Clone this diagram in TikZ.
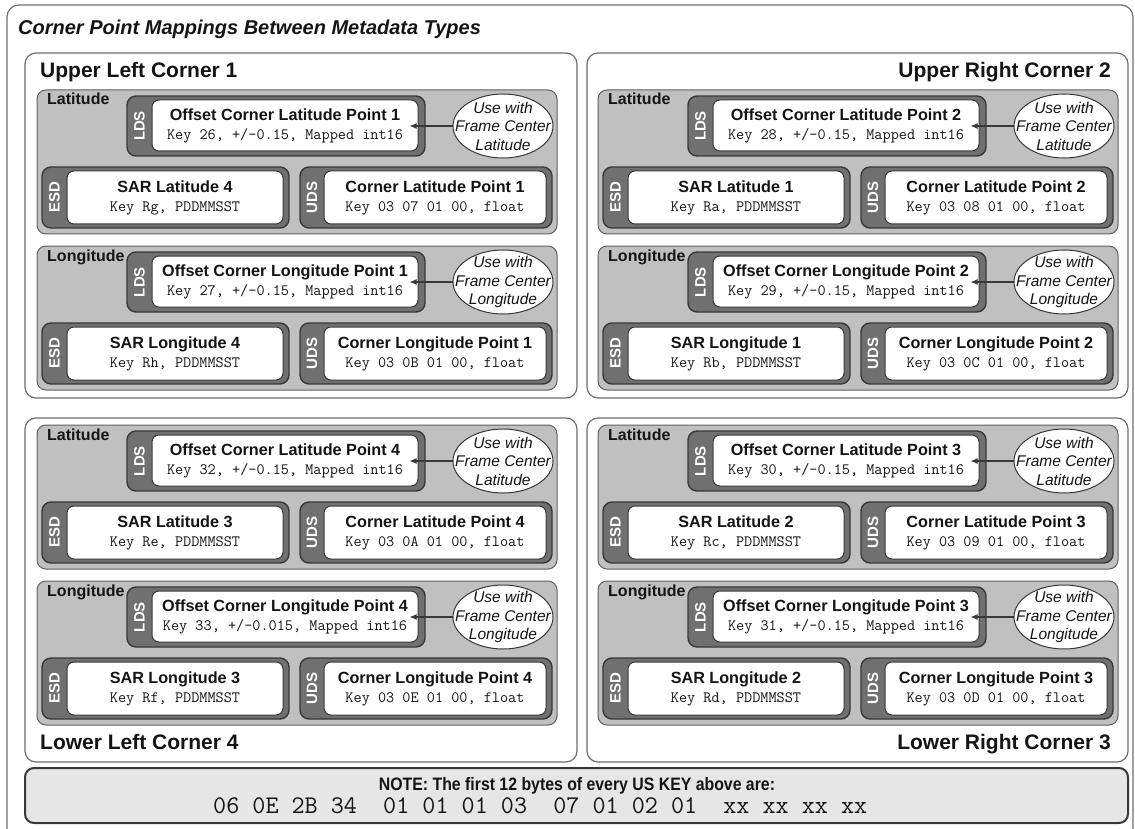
\documentclass[tikz,border=0pt]{standalone}
\usepackage{fontspec}
\setmainfont{Liberation Sans}
\newfontfamily\narrowsans[FakeStretch=0.88]{Liberation Sans}
\usetikzlibrary{shapes.geometric,arrows.meta}
\definecolor{panelgray}{HTML}{C0C0C0}
\definecolor{boxgray}{HTML}{707070}
\definecolor{edgegray}{HTML}{383838}
\definecolor{framegray}{HTML}{6E6E6E}
\definecolor{notegray}{HTML}{E6E6E6}
\definecolor{ink}{HTML}{141414}
\newcommand{\keyfont}{\ttfamily\fontsize{15.8}{18}\selectfont}
\newcommand{\mappanel}[8]{%
  \begin{scope}[shift={(#2)}]
    \draw[panel] (0,0) rectangle (520,144);
    \node[panellabel] (#1-lab) at (10,15) {#3};
    \node[darkbox, minimum width=298, minimum height=60] (#1-lds) at (239,36) {};
    \node[whitebox, minimum width=266, minimum height=51] (#1-ldsin) at (248,35.5)
      {{\bfseries Offset Corner #3 Point #4}\\{\keyfont Key #6, Mapped int16}};
    \node[tag] (#1-ldstag) at (102.5,36) {LDS};
    \node[usewith] (#1-ell) at (466,36) {};
    \node[usetext] (#1-elltext) at (#1-ell) {Use with\\Frame Center\\#3};
    \node[darkbox, minimum width=247, minimum height=61] (#1-esd) at (128.5,107.5) {};
    \node[whitebox, minimum width=216, minimum height=53] (#1-esdin) at (138,107.5)
      {{\bfseries SAR #3 #5}\\{\keyfont Key #7, PDDMMSST}};
    \node[tag] (#1-esdtag) at (17.5,107.5) {ESD};
    \node[darkbox, minimum width=252, minimum height=61] (#1-uds) at (389,107.5) {};
    \node[whitebox, minimum width=222, minimum height=53] (#1-udsin) at (398,107.5)
      {{\bfseries Corner #3 Point #4}\\{\keyfont Key 03 #8 01 00, float}};
    \node[tag] (#1-udstag) at (275,107.5) {UDS};
    \draw[pointer] (#1-ell.west) -- (#1-ldsin.east |- #1-ell.west);
  \end{scope}}
\begin{document}
\begin{tikzpicture}[x=1pt, y=-1pt,
    frame/.style={draw=framegray, line width=1.2pt, rounded corners=12pt},
    block/.style={draw=framegray, fill=white, line width=1.2pt, rounded corners=11pt},
    blocktitle/.style={inner sep=0, text=ink, font=\bfseries\fontsize{21}{24}\selectfont},
    panel/.style={draw=edgegray!80, fill=panelgray, line width=1pt, rounded corners=9pt},
    panellabel/.style={anchor=base west, inner sep=0, text=ink,
      font=\bfseries\fontsize{16}{18}\selectfont},
    darkbox/.style={draw=edgegray, fill=boxgray, line width=1.4pt, rounded corners=9pt,
      inner sep=0},
    whitebox/.style={draw=edgegray, fill=white, line width=1pt, rounded corners=7pt,
      inner sep=0, align=center, text=ink, font=\fontsize{16.2}{19}\selectfont},
    tag/.style={rotate=90, inner sep=0, text=white, font=\bfseries\fontsize{15}{15}\selectfont},
    usewith/.style={ellipse, draw=edgegray, fill=white, line width=1pt, inner sep=0,
      minimum width=100, minimum height=64},
    usetext/.style={inner sep=0, align=center, text=ink,
      font=\itshape\fontsize{15.5}{18.5}\selectfont},
    pointer/.style={-{Latex[length=7pt,width=6pt]}, line width=1.2pt, draw=edgegray,
      shorten >=-9pt},
    notebar/.style={draw=edgegray, fill=notegray, line width=2pt, rounded corners=9pt}]
  \useasboundingbox (0,0) rectangle (1135,829);
  \draw[frame] (7,5) rectangle (1133,845);
  \node[anchor=base west, inner sep=0, text=ink,
    font=\bfseries\itshape\fontsize{20}{22}\selectfont] (title) at (18,35)
    {Corner Point Mappings Between Metadata Types};
  \draw[block] (25,53) rectangle (577,398);
  \draw[block] (587,53) rectangle (1128,398);
  \draw[block] (25,418) rectangle (577,762);
  \draw[block] (587,418) rectangle (1128,762);
  \node[blocktitle, anchor=base west] (ul) at (40,78) {Upper Left Corner 1};
  \node[blocktitle, anchor=base east] (ur) at (1111,78) {Upper Right Corner 2};
  \node[blocktitle, anchor=base west] (ll) at (40,749) {Lower Left Corner 4};
  \node[blocktitle, anchor=base east] (lr) at (1111,749) {Lower Right Corner 3};
  \mappanel{ullat}{37,90}{Latitude}{1}{4}{26, +/-0.15}{Rg}{07}
  \mappanel{ullon}{37,246}{Longitude}{1}{4}{27, +/-0.15}{Rh}{0B}
  \mappanel{urlat}{598,90}{Latitude}{2}{1}{28, +/-0.15}{Ra}{08}
  \mappanel{urlon}{598,246}{Longitude}{2}{1}{29, +/-0.15}{Rb}{0C}
  \mappanel{lllat}{37,425}{Latitude}{4}{3}{32, +/-0.15}{Re}{0A}
  \mappanel{lllon}{37,581}{Longitude}{4}{3}{33, +/-0.015}{Rf}{0E}
  \mappanel{lrlat}{598,425}{Latitude}{3}{2}{30, +/-0.15}{Rc}{09}
  \mappanel{lrlon}{598,581}{Longitude}{3}{2}{31, +/-0.15}{Rd}{0D}
  \draw[notebar] (25,768) rectangle (1128,823);
  \node[anchor=base, inner sep=0, text=ink,
    font=\narrowsans\bfseries\fontsize{18}{22}\selectfont] (note) at (577,790)
    {NOTE: The first 12 bytes of every US KEY above are:};
  \node[anchor=base west, inner sep=0, text=ink,
    font=\ttfamily\fontsize{25.4}{26}\selectfont] (keyprefix) at (213,813)
    {06 0E 2B 34~~01 01 01 03~~07 01 02 01~~xx xx xx xx};
\end{tikzpicture}
\end{document}
